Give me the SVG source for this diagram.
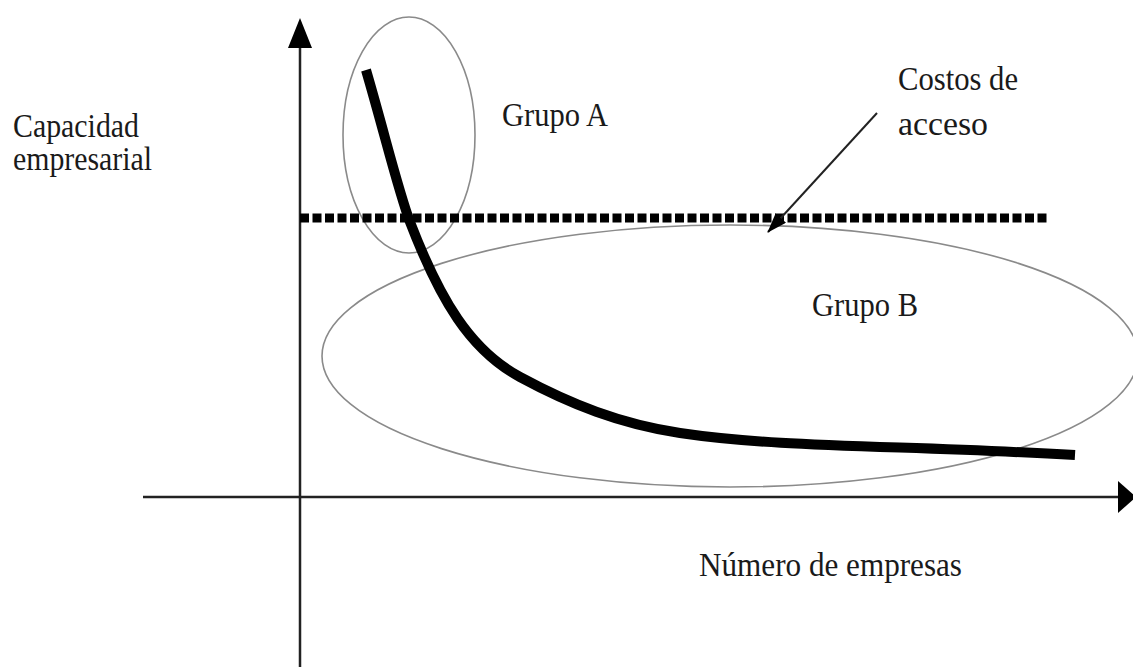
<svg xmlns="http://www.w3.org/2000/svg" width="1133" height="667" viewBox="0 0 1133 667">
<style>
.lbl{font-family:"Liberation Serif","Times New Roman",serif;font-size:33px;fill:#1a1a1a}
.axis{stroke:#222;stroke-width:2.5;fill:none}
.grp{fill:none;stroke:#8a8a8a;stroke-width:1.6}
</style>
<defs>
<marker id="ah" markerWidth="20" markerHeight="14" refX="19" refY="7" orient="auto" markerUnits="userSpaceOnUse" viewBox="0 0 20 14"><path d="M0,0 L20,7 L0,14 z" fill="#000"/></marker>
</defs>
<rect width="1133" height="667" fill="#fff"/>
<g id="groups">
<ellipse id="grupoA" class="grp" cx="409" cy="135" rx="66" ry="118"/>
<ellipse id="grupoB" class="grp" cx="730" cy="356" rx="408" ry="131"/>
</g>
<g id="axes">
<line class="axis" x1="300" y1="667" x2="300" y2="40"/>
<polygon points="300,18 288,48 312,48" fill="#000"/>
<line class="axis" x1="143" y1="497" x2="1125" y2="497"/>
<polygon points="1118,481 1136,497 1118,513" fill="#000"/>
</g>
<g id="access-line">
<line x1="300" y1="218" x2="1048" y2="218" stroke="#000" stroke-width="9" stroke-dasharray="9 3.5"/>
</g>
<g id="curve">
<path fill="none" stroke="#000" stroke-width="10" stroke-linecap="butt" d="M366,70 C385,135 398,190 410,222 C440,300 470,350 520,377 C570,404 620,424 680,433 C780,448 900,445 1075,455"/>
</g>
<g id="connectors">
<line x1="877" y1="113" x2="768" y2="232" stroke="#222" stroke-width="2" marker-end="url(#ah)"/>
</g>
<g id="labels">
<text class="lbl" x="13" y="137" textLength="126" lengthAdjust="spacingAndGlyphs">Capacidad</text>
<text class="lbl" x="13" y="170" textLength="139" lengthAdjust="spacingAndGlyphs">empresarial</text>
<text class="lbl" x="502" y="126" textLength="106" lengthAdjust="spacingAndGlyphs">Grupo A</text>
<text class="lbl" x="812" y="316" textLength="106" lengthAdjust="spacingAndGlyphs">Grupo B</text>
<text class="lbl" x="898" y="90" textLength="120" lengthAdjust="spacingAndGlyphs">Costos de</text>
<text class="lbl" x="898" y="135" textLength="90" lengthAdjust="spacingAndGlyphs">acceso</text>
<text class="lbl" x="699" y="576" textLength="263" lengthAdjust="spacingAndGlyphs">Número de empresas</text>
</g>
</svg>
